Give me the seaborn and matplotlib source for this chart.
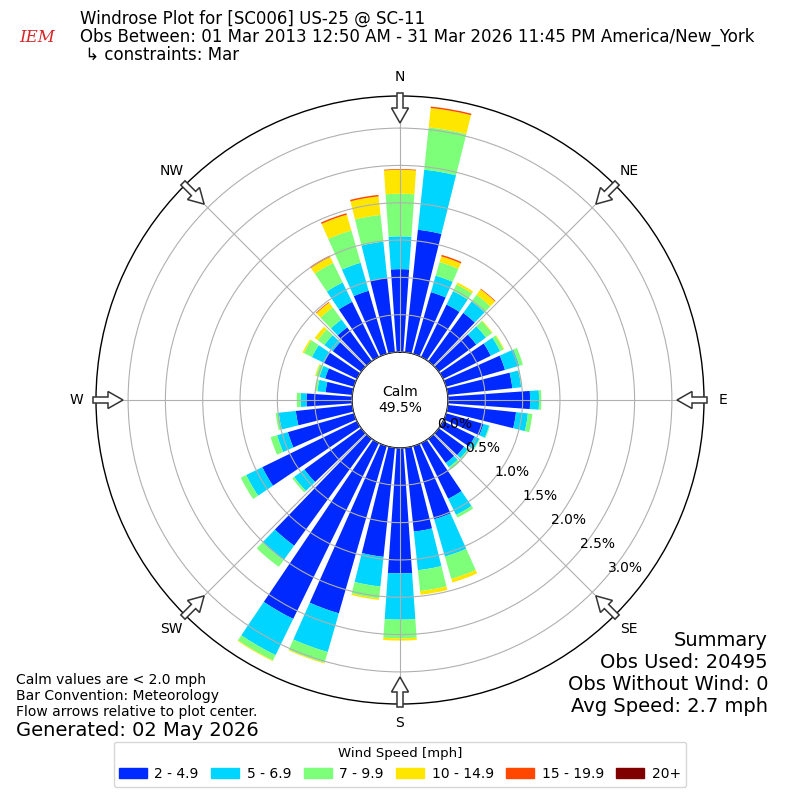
import numpy as np
import matplotlib
matplotlib.use("Agg")
import matplotlib.pyplot as plt
from matplotlib.patches import FancyArrow, Patch
import seaborn as sns

# wind direction bins (deg, meteorological), 10 degree sectors
directions = list(range(0, 360, 10))

# frequency (%) per speed bin, one value per direction
spd_2_5 = [1.11, 1.65, 0.86, 0.78, 0.80, 0.62, 0.71, 0.82, 0.87, 1.10,
           0.92, 0.52, 0.47, 0.42, 0.40, 0.83, 1.02, 1.13, 1.68, 1.47,
           2.33, 2.62, 1.77, 0.94, 1.41, 0.92, 0.76, 0.61, 0.36, 0.40,
           0.49, 0.47, 0.56, 0.82, 0.88, 1.00]
spd_5_7 = [0.44, 0.81, 0.23, 0.20, 0.19, 0.16, 0.14, 0.20, 0.12, 0.12,
           0.16, 0.08, 0.07, 0.06, 0.07, 0.24, 0.52, 0.52, 0.62, 0.40,
           0.54, 0.54, 0.24, 0.17, 0.24, 0.15, 0.23, 0.08, 0.11, 0.08,
           0.18, 0.14, 0.13, 0.29, 0.39, 0.49]
spd_7_10 = [0.57, 0.57, 0.19, 0.10, 0.11, 0.10, 0.05, 0.05, 0.01, 0.03,
            0.06, 0.01, 0.01, 0.02, 0.04, 0.04, 0.31, 0.28, 0.25, 0.16,
            0.15, 0.08, 0.11, 0.03, 0.08, 0.09, 0.04, 0.05, 0.03, 0.05,
            0.12, 0.11, 0.20, 0.29, 0.45, 0.36]
spd_10_15 = [0.32, 0.26, 0.08, 0.03, 0.09, 0.01, 0.01, 0.00, 0.00, 0.00,
             0.00, 0.00, 0.00, 0.00, 0.00, 0.00, 0.05, 0.05, 0.03, 0.02,
             0.01, 0.01, 0.00, 0.00, 0.00, 0.00, 0.00, 0.00, 0.00, 0.01,
             0.02, 0.05, 0.08, 0.09, 0.22, 0.25]
spd_15_20 = [0.01, 0.02, 0.02, 0.00, 0.01, 0.00, 0.00, 0.00, 0.00, 0.00,
             0.00, 0.00, 0.00, 0.00, 0.00, 0.00, 0.00, 0.00, 0.00, 0.00,
             0.00, 0.00, 0.00, 0.00, 0.00, 0.00, 0.00, 0.00, 0.00, 0.00,
             0.00, 0.00, 0.01, 0.02, 0.02, 0.02]
spd_20_up = [0.0] * 36

speed_labels = ["2 - 4.9", "5 - 6.9", "7 - 9.9", "10 - 14.9", "15 - 19.9", "20+"]
calm_pct = 49.5
rticks = [0.0, 0.5, 1.0, 1.5, 2.0, 2.5, 3.0]
compass = ["N", "NE", "E", "SE", "S", "SW", "W", "NW"]

sns.set_theme(style="white")
plt.rcParams["font.family"] = ["DejaVu Sans"]
for key in ("text.color", "axes.labelcolor", "xtick.color", "ytick.color"):
    plt.rcParams[key] = "black"

colors = plt.cm.jet(np.linspace(1 / 6, 1, 6))
series = [spd_2_5, spd_5_7, spd_7_10, spd_10_15, spd_15_20, spd_20_up]

fig = plt.figure(figsize=(8, 8), dpi=100)
ax = fig.add_axes([0.12, 0.12, 0.76, 0.76], projection="polar")
ax.set_theta_zero_location("N")
ax.set_theta_direction(-1)

theta = np.radians(directions)
base = np.zeros(len(directions))
for vals, c in zip(series, colors):
    vals = np.array(vals)
    ax.bar(theta, vals, width=np.radians(8), bottom=base, color=c,
           align="center", linewidth=0, zorder=1)
    base = base + vals

ax.set_ylim(0, 3.43)
ax.set_rorigin(-0.643)
ax.set_axisbelow(False)
ax.set_yticks(rticks)
ax.set_yticklabels([f"{t:.1f}%" for t in rticks], fontsize=10)
ax.set_rlabel_position(130)
ax.set_xticks(np.radians(np.arange(0, 360, 45)))
ax.set_xticklabels(compass, fontsize=10)
ax.tick_params(axis="x", pad=1)
ax.grid(True, color="#b0b0b0", linewidth=0.8)
for sp in ax.spines.values():
    sp.set_color("black")
    sp.set_linewidth(1.0)
ax.text(0, -0.643, f"Calm\n{calm_pct:.1f}%", ha="center", va="center",
        fontsize=10, linespacing=1.1)

# overlay in pixel coordinates for the flow arrows
ov = fig.add_axes([0, 0, 1, 1], facecolor="none")
ov.set_xlim(0, 800)
ov.set_ylim(800, 0)
ov.axis("off")
for ang in range(0, 360, 45):
    a = np.radians(ang)
    x0, y0 = 400 + 307 * np.sin(a), 400 - 307 * np.cos(a)
    x1, y1 = 400 + 277 * np.sin(a), 400 - 277 * np.cos(a)
    ov.add_patch(FancyArrow(x0, y0, x1 - x0, y1 - y0, width=6, head_width=17,
                            head_length=15, length_includes_head=True,
                            fc="white", ec="#333333", lw=1.1, zorder=5))

# logo stand-in
fig.text(0.047, 0.953, "IEM", color="#d62728", fontsize=12, style="italic",
         family="serif", ha="center", va="center")

fig.text(0.1, 0.977, "Windrose Plot for [SC006] US-25 @ SC-11", fontsize=12,
         va="center")
fig.text(0.1, 0.954, "Obs Between: 01 Mar 2013 12:50 AM - 31 Mar 2026 11:45 PM America/New_York",
         fontsize=12, va="center")
fig.text(0.1, 0.931, " \u21b3 constraints: Mar", fontsize=12, va="center")

fig.text(0.02, 0.15, "Calm values are < 2.0 mph", fontsize=10, va="center")
fig.text(0.02, 0.13, "Bar Convention: Meteorology", fontsize=10, va="center")
fig.text(0.02, 0.11, "Flow arrows relative to plot center.", fontsize=10, va="center")
fig.text(0.02, 0.0875, "Generated: 02 May 2026", fontsize=14, va="center")

fig.text(0.96, 0.2, "Summary", fontsize=14, ha="right", va="center")
fig.text(0.96, 0.1725, "Obs Used: 20495", fontsize=14, ha="right", va="center")
fig.text(0.96, 0.145, "Obs Without Wind: 0", fontsize=14, ha="right", va="center")
fig.text(0.96, 0.1175, "Avg Speed: 2.7 mph", fontsize=14, ha="right", va="center")

handles = [Patch(color=c, label=l) for c, l in zip(colors, speed_labels)]
fig.legend(handles=handles, loc="lower center", bbox_to_anchor=(0.5, 0.008),
           ncol=6, title="Wind Speed [mph]", fontsize=10, title_fontsize=9.5,
           columnspacing=0.9, handletextpad=0.55, frameon=True,
           edgecolor="#cccccc")

fig.savefig("out.png", dpi=100)
